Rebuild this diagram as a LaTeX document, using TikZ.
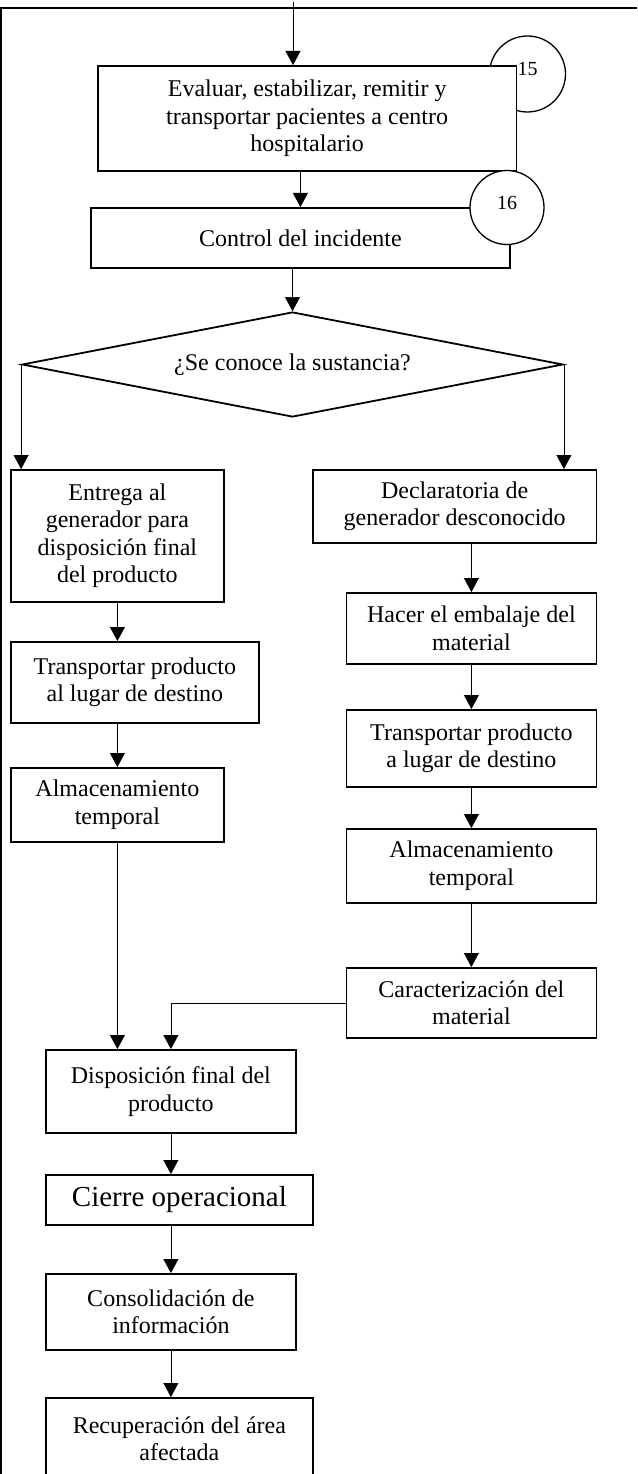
\documentclass[tikz,border=0pt]{standalone}
\usepackage{fontspec}
\setmainfont{Liberation Serif}
\usetikzlibrary{shapes.geometric, arrows.meta}
\tikzset{
->, % makes the connectors directed
>={Triangle[length=14pt, width=15pt]}, % filled arrow heads
x=1pt, y=-1pt, % one unit is one pixel of the page, y runs downwards
line width=2.2pt, % thickness of the connectors
box/.style={draw, line width=1.8pt, fill=white, inner sep=0pt, align=center, anchor=north west, font=\fontsize{24}{27.5}\selectfont}, % every process box
dims/.style 2 args={minimum width=#1pt, minimum height=#2pt}, % width and height of a box
decision/.style={draw, diamond, aspect=5.15, line width=1.8pt, inner sep=0pt, minimum width=541pt, minimum height=105pt, font=\fontsize{24}{27.5}\selectfont}, % the question
stepnum/.style={draw, circle, line width=1.3pt, fill=white, inner sep=0pt, text depth=10pt, font=\fontsize{20}{22}\selectfont}, % numbered circles
}

\begin{document}
\begin{tikzpicture}
    \clip (0,0) rectangle (637,1474);
    \draw[-, line width=2pt] (637,8.5) -- (1,8.5) -- (1,1480);
    \coordinate (in) at (293,2);
    \node[stepnum, minimum size=76pt] (c15) at (527.5,74) {15};
    \node[box, dims={418.5}{105}] (1) at (97,65) {Evaluar, estabilizar, remitir y\\transportar pacientes a centro\\hospitalario};
    \node[box, dims={419}{60}] (2) at (90,207) {Control del incidente};
    \node[stepnum, minimum size=74pt] (c16) at (507,207.5) {16};
    \node[decision] (3) at (292.5,364.5) {¿Se conoce la sustancia?};
    \node[box, dims={213}{132}] (4) at (10,469) {Entrega al\\generador para\\disposición final\\del producto};
    \node[box, dims={248}{81}] (5) at (10,641) {Transportar producto\\al lugar de destino};
    \node[box, dims={213}{74}] (6) at (10,767) {Almacenamiento\\temporal};
    \node[box, dims={283.5}{73}] (7) at (312,469) {Declaratoria de\\generador desconocido};
    \node[box, dims={250}{71}] (8) at (345.5,592) {Hacer el embalaje del\\material};
    \node[box, dims={250}{77}] (9) at (345.5,709) {Transportar producto\\a lugar de destino};
    \node[box, dims={250}{74}] (10) at (345.5,828) {Almacenamiento\\temporal};
    \node[box, dims={250}{70}] (11) at (345.5,967) {Caracterización del\\material};
    \node[box, dims={250}{83}] (12) at (45,1049) {Disposición final del\\producto};
    \node[box, dims={267}{50}, font=\fontsize{29}{33}\selectfont] (13) at (45,1174) {Cierre operacional};
    \node[box, dims={250}{76}] (14) at (45,1273) {Consolidación de\\información};
    \node[box, dims={267}{82}] (15) at (45,1397) {Recuperación del área\\afectada};
    \path (in) edge (in |- 1.north)
    (1.south -| 2.north) edge (2.north)
    (2.south -| 3.north) edge (3.north)
    (3.west) edge (3.west |- 4.north)
    (3.east) edge (3.east |- 7.north)
    (4.south) edge (4.south |- 5.north)
    (5.south -| 6.north) edge (6.north)
    (6.south) edge (6.south |- 12.north)
    (7.south -| 8.north) edge (8.north)
    (8.south) edge (9.north)
    (9.south) edge (10.north)
    (10.south) edge (11.north)
    (11.west) edge[to path={-| (\tikztotarget)}] (12.north)
    (12.south) edge (12.south |- 13.north)
    (13.south -| 14.north) edge (14.north)
    (14.south) edge (14.south |- 15.north);
\end{tikzpicture}
\end{document}
